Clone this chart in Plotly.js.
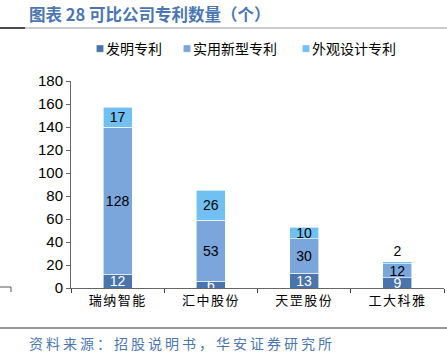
<!DOCTYPE html>
<html><head><meta charset="utf-8">
<script src="https://cdn.plot.ly/plotly-3.0.1.min.js"></script>
<style>html,body{margin:0;padding:0;background:#fff;}#chart{width:447px;height:356px;}</style>
</head><body><div id="chart"></div>
<script>
var categories = ["瑞纳智能", "汇中股份", "天罡股份", "工大科雅"];
var inventionPatents = [12, 6, 13, 9];
var utilityPatents = [128, 53, 30, 12];
var designPatents = [17, 26, 10, 2];
var seriesNames = ["发明专利", "实用新型专利", "外观设计专利"];

var cjk = '"Noto Sans CJK SC", sans-serif';
var latin = '"Liberation Sans", Arial, sans-serif';
function tr(vals, name, color, txtColor, leg) {
  return {
    type: 'bar', x: categories, y: vals, name: name, legend: leg,
    marker: {color: color, line: {color: '#ffffff', width: 0.6}},
    text: vals.map(String),
    textposition: vals.map(function (v) { return v < 5 ? 'outside' : 'inside'; }),
    insidetextanchor: 'middle',
    textangle: 0, constraintext: 'none',
    insidetextfont: {family: latin, size: 14, color: txtColor},
    outsidetextfont: {family: latin, size: 14, color: '#000'},
    textfont: {family: latin, size: 14, color: txtColor},
    cliponaxis: false, hoverinfo: 'none'
  };
}
var data = [
  tr(inventionPatents, seriesNames[0], '#4a74ac', '#ffffff', 'legend'),
  tr(utilityPatents, seriesNames[1], '#7aa6dc', '#000000', 'legend2'),
  tr(designPatents, seriesNames[2], '#70c0f2', '#000000', 'legend3')
];
function leg(px) {
  return {orientation: 'h', x: px / 447, xref: 'container', xanchor: 'left', y: 1 - 49/356, yref: 'container', yanchor: 'middle',
    font: {family: cjk, size: 14, color: '#000'}, itemwidth: 30, bgcolor: 'rgba(0,0,0,0)'};
}
var layout = {
  width: 447, height: 356,
  margin: {l: 71, r: 3, t: 81, b: 68},
  barmode: 'stack', bargap: 0.69,
  paper_bgcolor: '#fff', plot_bgcolor: '#fff',
  showlegend: true,
  legend: leg(66), legend2: leg(153), legend3: leg(272),
  xaxis: {type: 'category', tickson: 'boundaries', ticks: 'outside', ticklen: 4, tickcolor: '#444',
    showline: true, linecolor: '#666', linewidth: 1, showgrid: false,
    tickfont: {family: cjk, size: 13, color: '#000'}, range: [-0.5, 3.5]},
  yaxis: {range: [0, 180], dtick: 20, ticks: 'outside', ticklen: 4, tickcolor: '#666',
    showline: true, linecolor: '#666', linewidth: 1, showgrid: false, zeroline: false,
    tickfont: {family: latin, size: 15, color: '#000'}},
  annotations: [
    {text: '<b>图表 28 可比公司专利数量（个）</b>', xref: 'paper', yref: 'paper', x: (27-71)/373, y: (288-14)/207,
     xanchor: 'left', yanchor: 'middle', showarrow: false,
     font: {family: cjk, size: 16.5, color: '#4a76b4'}},
    {text: '资料来源：招股说明书，华安证券研究所', xref: 'paper', yref: 'paper', x: (54-71)/373, y: (288-343)/207,
     xanchor: 'left', yanchor: 'middle', showarrow: false,
     font: {family: cjk, size: 14, color: '#4a76b4'}}
  ],
  shapes: [
    {type: 'line', xref: 'paper', yref: 'paper', x0: -71/373, x1: 376/373, y0: (288-28)/207, y1: (288-28)/207, line: {color: '#999', width: 1}},
    {type: 'line', xref: 'paper', yref: 'paper', x0: -71/373, x1: (25-71)/373, y0: (288-28)/207, y1: (288-28)/207, line: {color: '#222', width: 1.5}},
    {type: 'line', xref: 'paper', yref: 'paper', x0: -71/373, x1: 376/373, y0: (288-328)/207, y1: (288-328)/207, line: {color: '#333', width: 1.2}},
    {type: 'line', xref: 'paper', yref: 'paper', x0: -71/373, x1: (11-71)/373, y0: (288-287)/207, y1: (288-287)/207, line: {color: '#555', width: 1}},
    {type: 'line', xref: 'paper', yref: 'paper', x0: (11-71)/373, x1: (11-71)/373, y0: (288-287)/207, y1: (288-292)/207, line: {color: '#555', width: 1}}
  ]
};
Plotly.newPlot('chart', data, layout, {displayModeBar: false, staticPlot: true}).then(function (gd) {
  var ann = gd.querySelectorAll('.annotation-text');
  if (ann[1]) ann[1].style.letterSpacing = '3px';
  gd.querySelectorAll('.xtick text').forEach(function (t) { t.style.letterSpacing = '1.5px'; });
  gd.querySelectorAll('.legendpoints path').forEach(function (p) {
    var old = p.getAttribute('transform') || '';
    p.setAttribute('transform', 'translate(14,0) ' + old + ' scale(0.6)');
  });
});
</script></body></html>
